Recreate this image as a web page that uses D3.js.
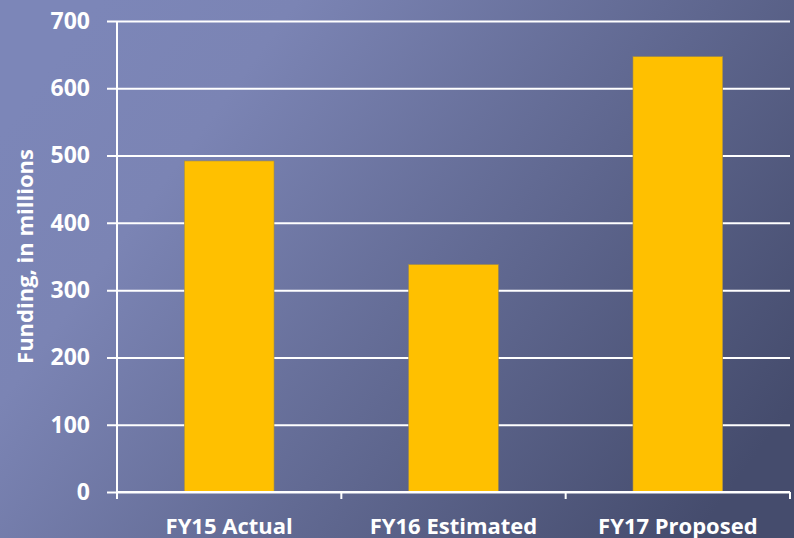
<!DOCTYPE html>
<html>
<head>
<meta charset="utf-8">
<script src="https://cdn.jsdelivr.net/npm/d3@7"></script>
<style>
  html, body { margin: 0; padding: 0; }
  body { width: 794px; height: 538px; overflow: hidden; }
  text { font-family: "Open Sans", Lato, sans-serif; font-weight: bold; fill: #fff; }
</style>
</head>
<body>
<div id="chart"></div>
<script>
const categories = ["FY15 Actual", "FY16 Estimated", "FY17 Proposed"];
const funding = [492, 338, 647];
const yTicks = [0, 100, 200, 300, 400, 500, 600, 700];

const width = 794, height = 538, margin = {top: 21, right: 4, bottom: 46, left: 117};

const svg = d3.select("#chart").append("svg")
    .attr("width", width).attr("height", height);

// background
const defs = svg.append("defs");
const grad = defs.append("linearGradient").attr("id", "bg")
    .attr("x1", "0%").attr("y1", "25%").attr("x2", "100%").attr("y2", "75%");
grad.append("stop").attr("offset", "0%").attr("stop-color", "#7c86b8");
grad.append("stop").attr("offset", "20%").attr("stop-color", "#7b84b4");
grad.append("stop").attr("offset", "100%").attr("stop-color", "#454c6d");
svg.append("rect").attr("width", width).attr("height", height).attr("fill", "url(#bg)");

const x = d3.scaleBand().domain(categories)
    .range([margin.left, width - margin.right]).paddingInner(0.6).paddingOuter(0.3);
const y = d3.scaleLinear().domain([0, 700]).range([height - margin.bottom, margin.top]);

// gridlines + y axis
const yAxis = svg.append("g")
    .attr("transform", `translate(${margin.left},0)`)
    .call(d3.axisLeft(y).tickValues(yTicks)
        .tickSizeInner(-(width - margin.right - margin.left)).tickSizeOuter(0));
yAxis.select(".domain").remove();
yAxis.selectAll(".tick line").attr("stroke", "#fff").attr("stroke-width", 2)
    .attr("x1", -10);
yAxis.selectAll(".tick text").style("font-size", "23px").attr("x", -27);

// bars
svg.selectAll("rect.bar")
    .data(funding)
    .enter().append("rect")
    .attr("class", "bar")
    .attr("x", (d, i) => x(categories[i]))
    .attr("y", d => y(d))
    .attr("width", x.bandwidth())
    .attr("height", d => y(0) - y(d))
    .attr("fill", "#ffc000")
    .attr("stroke", "#a08a4a")
    .attr("stroke-width", 0.6);

// vertical axis line
svg.append("line")
    .attr("x1", margin.left).attr("x2", margin.left)
    .attr("y1", y(700)).attr("y2", y(0) + 7)
    .attr("stroke", "#fff").attr("stroke-width", 2);

// x axis
const edges = [0, 1, 2, 3].map(i => margin.left + i * (width - margin.right - margin.left) / 3);
svg.append("line")
    .attr("x1", margin.left).attr("x2", width - margin.right)
    .attr("y1", y(0)).attr("y2", y(0))
    .attr("stroke", "#fff").attr("stroke-width", 2);
svg.selectAll("line.xtick")
    .data(edges)
    .enter().append("line")
    .attr("class", "xtick")
    .attr("x1", d => d).attr("x2", d => d)
    .attr("y1", y(0)).attr("y2", y(0) + 7)
    .attr("stroke", "#fff").attr("stroke-width", 2);

svg.selectAll("text.xlabel")
    .data(categories)
    .enter().append("text")
    .attr("class", "xlabel")
    .attr("x", d => x(d) + x.bandwidth() / 2)
    .attr("y", 534)
    .attr("text-anchor", "middle")
    .style("font-size", "22px")
    .text(d => d);

// y axis label
svg.append("text")
    .attr("transform", "rotate(-90)")
    .attr("x", -(y(0) + y(700)) / 2)
    .attr("y", 33)
    .attr("text-anchor", "middle")
    .style("font-size", "22px")
    .text("Funding, in millions");
</script>
</body>
</html>
